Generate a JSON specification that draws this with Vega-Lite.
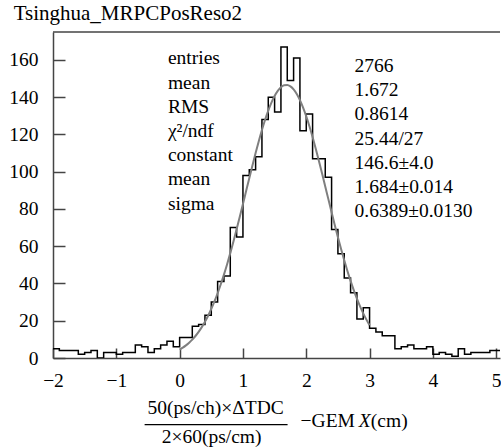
{
  "$schema": "https://vega.github.io/schema/vega-lite/v6.json",
  "width": 447,
  "height": 326,
  "autosize": {"type": "none"},
  "padding": {"left": 53, "top": 32, "right": 1, "bottom": 89},
  "background": "white",
  "config": {"view": {"stroke": null}, "font": "Liberation Serif"},
  "datasets": {
    "hist": [
      {"lo": -2.0, "n": 5}, {"lo": -1.9, "n": 4}, {"lo": -1.8, "n": 4}, {"lo": -1.7, "n": 4}, {"lo": -1.6, "n": 2},
      {"lo": -1.5, "n": 3}, {"lo": -1.4, "n": 4}, {"lo": -1.3, "n": 0}, {"lo": -1.2, "n": 3}, {"lo": -1.1, "n": 3},
      {"lo": -1.0, "n": 2}, {"lo": -0.9, "n": 3}, {"lo": -0.8, "n": 3}, {"lo": -0.7, "n": 7}, {"lo": -0.6, "n": 6},
      {"lo": -0.5, "n": 3}, {"lo": -0.4, "n": 5}, {"lo": -0.3, "n": 7}, {"lo": -0.2, "n": 9}, {"lo": -0.1, "n": 6},
      {"lo": 0.0, "n": 11}, {"lo": 0.1, "n": 11}, {"lo": 0.2, "n": 17}, {"lo": 0.3, "n": 18}, {"lo": 0.4, "n": 23},
      {"lo": 0.5, "n": 30}, {"lo": 0.6, "n": 41}, {"lo": 0.7, "n": 44}, {"lo": 0.8, "n": 70}, {"lo": 0.9, "n": 65},
      {"lo": 1.0, "n": 98}, {"lo": 1.1, "n": 101}, {"lo": 1.2, "n": 108}, {"lo": 1.3, "n": 128}, {"lo": 1.4, "n": 140},
      {"lo": 1.5, "n": 132}, {"lo": 1.6, "n": 167}, {"lo": 1.7, "n": 149}, {"lo": 1.8, "n": 161}, {"lo": 1.9, "n": 122},
      {"lo": 2.0, "n": 131}, {"lo": 2.1, "n": 107}, {"lo": 2.2, "n": 107}, {"lo": 2.3, "n": 97}, {"lo": 2.4, "n": 69},
      {"lo": 2.5, "n": 56}, {"lo": 2.6, "n": 43}, {"lo": 2.7, "n": 35}, {"lo": 2.8, "n": 21}, {"lo": 2.9, "n": 27},
      {"lo": 3.0, "n": 16}, {"lo": 3.1, "n": 14}, {"lo": 3.2, "n": 12}, {"lo": 3.3, "n": 12}, {"lo": 3.4, "n": 5},
      {"lo": 3.5, "n": 6}, {"lo": 3.6, "n": 7}, {"lo": 3.7, "n": 5}, {"lo": 3.8, "n": 5}, {"lo": 3.9, "n": 6},
      {"lo": 4.0, "n": 2}, {"lo": 4.1, "n": 3}, {"lo": 4.2, "n": 2}, {"lo": 4.3, "n": 1}, {"lo": 4.4, "n": 5},
      {"lo": 4.5, "n": 2}, {"lo": 4.6, "n": 3}, {"lo": 4.7, "n": 3}, {"lo": 4.8, "n": 3}, {"lo": 4.9, "n": 4},
      {"lo": 5.0, "n": 4}, {"lo": 5.1, "n": 4}
    ],
    "fit": [
      {"x": 0.00, "g": 4.54}, {"x": 0.05, "g": 5.57}, {"x": 0.10, "g": 6.78}, {"x": 0.15, "g": 8.21}, {"x": 0.20, "g": 9.88},
      {"x": 0.25, "g": 11.81}, {"x": 0.30, "g": 14.03}, {"x": 0.35, "g": 16.57}, {"x": 0.40, "g": 19.46}, {"x": 0.45, "g": 22.70},
      {"x": 0.50, "g": 26.33}, {"x": 0.55, "g": 30.34}, {"x": 0.60, "g": 34.75}, {"x": 0.65, "g": 39.57}, {"x": 0.70, "g": 44.78},
      {"x": 0.75, "g": 50.36}, {"x": 0.80, "g": 56.29}, {"x": 0.85, "g": 62.53}, {"x": 0.90, "g": 69.05}, {"x": 0.95, "g": 75.77},
      {"x": 1.00, "g": 82.65}, {"x": 1.05, "g": 89.60}, {"x": 1.10, "g": 96.54}, {"x": 1.15, "g": 103.38}, {"x": 1.20, "g": 110.03},
      {"x": 1.25, "g": 116.39}, {"x": 1.30, "g": 122.37}, {"x": 1.35, "g": 127.88}, {"x": 1.40, "g": 132.81}, {"x": 1.45, "g": 137.09},
      {"x": 1.50, "g": 140.65}, {"x": 1.55, "g": 143.41}, {"x": 1.60, "g": 145.34}, {"x": 1.65, "g": 146.39}, {"x": 1.70, "g": 146.55},
      {"x": 1.75, "g": 145.82}, {"x": 1.80, "g": 144.20}, {"x": 1.85, "g": 141.73}, {"x": 1.90, "g": 138.46}, {"x": 1.95, "g": 134.43},
      {"x": 2.00, "g": 129.72}, {"x": 2.05, "g": 124.41}, {"x": 2.10, "g": 118.60}, {"x": 2.15, "g": 112.36}, {"x": 2.20, "g": 105.80},
      {"x": 2.25, "g": 99.01}, {"x": 2.30, "g": 92.10}, {"x": 2.35, "g": 85.15}, {"x": 2.40, "g": 78.24}, {"x": 2.45, "g": 71.45},
      {"x": 2.50, "g": 64.85}, {"x": 2.55, "g": 58.50}, {"x": 2.60, "g": 52.45}, {"x": 2.65, "g": 46.74}, {"x": 2.70, "g": 41.40},
      {"x": 2.75, "g": 36.44}, {"x": 2.80, "g": 31.88}, {"x": 2.85, "g": 27.73}, {"x": 2.90, "g": 23.97}, {"x": 2.95, "g": 20.59},
      {"x": 3.00, "g": 17.57}
    ]
  },
  "layer": [
    {
      "data": {"name": "hist"},
      "mark": {"type": "line", "interpolate": "step-after", "color": "black", "strokeWidth": 1.5, "clip": true},
      "encoding": {
        "x": {"field": "lo", "type": "quantitative",
              "scale": {"domain": [-2, 5.06], "nice": false, "zero": false},
              "axis": {"values": [-2, -1, 0, 1, 2, 3, 4, 5], "format": "d", "title": null, "grid": false,
                       "tickSize": -10, "tickWidth": 1.5, "tickColor": "#444",
                       "domainColor": "#444", "domainWidth": 1.5,
                       "labelPadding": 23, "labelFont": "Liberation Serif", "labelFontSize": 19.5, "labelColor": "black",
                       "labelFlush": false, "labelOverlap": false, "labelBaseline": "top"}},
        "y": {"field": "n", "type": "quantitative",
              "scale": {"domain": [0, 175], "nice": false},
              "axis": {"values": [0, 20, 40, 60, 80, 100, 120, 140, 160], "format": "d", "title": null, "grid": false,
                       "tickSize": -12, "tickWidth": 1.5, "tickColor": "#444",
                       "domainColor": "#444", "domainWidth": 1.5,
                       "labelPadding": 27, "labelFont": "Liberation Serif", "labelFontSize": 19.5, "labelColor": "black",
                       "labelFlush": false, "labelOverlap": false, "labelBaseline": "middle"}}
      }
    },
    {
      "data": {"name": "fit"},
      "mark": {"type": "line", "color": "#7f7f7f", "strokeWidth": 2, "interpolate": "monotone"},
      "encoding": {
        "x": {"field": "x", "type": "quantitative"},
        "y": {"field": "g", "type": "quantitative"}
      }
    },
    {
      "data": {"values": [{}]},
      "mark": {"type": "rule", "color": "#444", "strokeWidth": 1.5},
      "encoding": {"y": {"datum": 175}}
    },
    {
      "data": {"values": [{}]},
      "mark": {"type": "text", "align": "left", "baseline": "alphabetic", "font": "Liberation Serif", "fontSize": 21, "color": "black", "text": "Tsinghua_MRPCPosReso2"},
      "encoding": {"x": {"datum": -2.621}, "y": {"datum": 181.3}}
    },
    {
      "data": {"values": [{}]},
      "mark": {"type": "text", "align": "left", "baseline": "alphabetic", "font": "Liberation Serif", "fontSize": 19.5, "lineHeight": 24.2, "color": "black",
               "text": ["entries", "mean", "RMS", "χ²/ndf", "constant", "mean", "sigma"]},
      "encoding": {"x": {"datum": -0.185}, "y": {"datum": 157.6}}
    },
    {
      "data": {"values": [{}]},
      "mark": {"type": "text", "align": "left", "baseline": "alphabetic", "font": "Liberation Serif", "fontSize": 19.5, "lineHeight": 24.2, "color": "black",
               "text": ["2766", "1.672", "0.8614", "25.44/27", "146.6±4.0", "1.684±0.014", "0.6389±0.0130"]},
      "encoding": {"x": {"datum": 2.763}, "y": {"datum": 153.5}}
    },
    {
      "data": {"values": [{}]},
      "mark": {"type": "text", "align": "center", "baseline": "alphabetic", "font": "Liberation Serif", "fontSize": 19.5, "color": "black", "text": "50(ps/ch)×ΔTDC"},
      "encoding": {"x": {"datum": 0.569}, "y": {"datum": -30.0}}
    },
    {
      "data": {"values": [{}]},
      "mark": {"type": "rule", "color": "black", "strokeWidth": 1.2},
      "encoding": {"x": {"datum": -0.553}, "x2": {"datum": 1.705}, "y": {"datum": -35.8}}
    },
    {
      "data": {"values": [{}]},
      "mark": {"type": "text", "align": "center", "baseline": "alphabetic", "font": "Liberation Serif", "fontSize": 19.5, "color": "black", "text": "2×60(ps/cm)"},
      "encoding": {"x": {"datum": 0.505}, "y": {"datum": -45.5}}
    },
    {
      "data": {"values": [{}]},
      "mark": {"type": "text", "align": "left", "baseline": "alphabetic", "font": "Liberation Serif", "fontSize": 19.5, "color": "black", "text": "−GEM "},
      "encoding": {"x": {"datum": 1.911}, "y": {"datum": -37.1}}
    },
    {
      "data": {"values": [{}]},
      "mark": {"type": "text", "align": "left", "baseline": "alphabetic", "font": "Liberation Serif", "fontSize": 19.5, "fontStyle": "italic", "color": "black", "text": "X"},
      "encoding": {"x": {"datum": 2.83}, "y": {"datum": -37.1}}
    },
    {
      "data": {"values": [{}]},
      "mark": {"type": "text", "align": "left", "baseline": "alphabetic", "font": "Liberation Serif", "fontSize": 19.5, "color": "black", "text": "(cm)"},
      "encoding": {"x": {"datum": 3.02}, "y": {"datum": -37.1}}
    }
  ]
}
